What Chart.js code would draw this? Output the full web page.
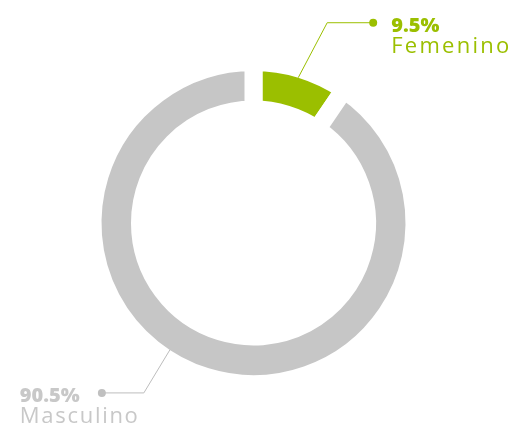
<!DOCTYPE html>
<html>
<head>
<meta charset="utf-8">
<script src="https://cdn.jsdelivr.net/npm/chart.js@4"></script>
<style>
  html, body { margin: 0; padding: 0; background: #fff; }
  #wrap { width: 517px; height: 428px; }
</style>
</head>
<body>
<div id="wrap"><canvas id="c" width="517" height="428"></canvas></div>
<script>
const labels = ['Femenino', 'Masculino'];
const values = [9.5, 90.5];
const colors = ['#9bbf00', '#c6c6c6'];
const textColors = ['#9bbf00', '#c8c8c8'];

// where on each slice the leader line starts (fraction of the arc)
const anchorAt = [0.5, 0.55];

// white border => gap between slices
const gapWidth = 18;

// leader line + label drawing
const calloutPlugin = {
  id: 'callouts',
  afterDraw(chart) {
    const ctx = chart.ctx;
    const meta = chart.getDatasetMeta(0);
    meta.data.forEach((arc, i) => {
      const p = arc.getProps(['x', 'y', 'startAngle', 'endAngle', 'outerRadius']);
      const r = p.outerRadius - gapWidth / 2;
      const a = p.startAngle + (p.endAngle - p.startAngle) * anchorAt[i];
      const ax = p.x + Math.cos(a) * r;
      const ay = p.y + Math.sin(a) * r;
      const right = i === 0;
      const ex = ax + (right ? 29 : -26);
      const ey = ay + (right ? -55 : 43);
      const dx = ex + (right ? 46 : -42);

      ctx.save();
      ctx.strokeStyle = right ? colors[i] : '#bdbdbd';
      ctx.lineWidth = 1;
      ctx.beginPath();
      ctx.moveTo(ax, ay);
      ctx.lineTo(ex, ey);
      ctx.lineTo(dx, ey);
      ctx.stroke();
      ctx.fillStyle = right ? colors[i] : '#c0c0c0';
      ctx.beginPath();
      ctx.arc(dx, ey, 4, 0, Math.PI * 2);
      ctx.fill();

      const tx = right ? dx + 18 : dx - 82;
      ctx.fillStyle = textColors[i];
      ctx.textAlign = 'left';
      ctx.textBaseline = 'alphabetic';
      ctx.font = '800 20px "Open Sans"';
      ctx.letterSpacing = '0px';
      ctx.fillText(values[i].toFixed(1) + '%', tx, ey + 9);

      ctx.font = '400 22px "Open Sans"';
      const name = labels[i];
      const w = ctx.measureText(name).width;
      const sp = (118 - w) / (name.length - 1);
      ctx.letterSpacing = sp.toFixed(2) + 'px';
      ctx.fillText(name, tx, ey + 30);
      ctx.restore();
    });
  }
};

const ctx = document.getElementById('c').getContext('2d');
const myChart = new Chart(ctx, {
  type: 'doughnut',
  data: {
    labels: labels,
    datasets: [{
      data: values,
      backgroundColor: colors,
      borderColor: '#ffffff',
      borderWidth: gapWidth,
      borderAlign: 'center',
    }]
  },
  options: {
    responsive: false,
    animation: false,
    events: [],
    radius: 152 + gapWidth / 2,
    cutout: '70.5%',
    layout: {
      padding: { left: 0, right: 10, top: 18, bottom: 0 }
    },
    plugins: {
      legend: { display: false },
      tooltip: { enabled: false }
    }
  },
  plugins: [calloutPlugin]
});
</script>
</body>
</html>
